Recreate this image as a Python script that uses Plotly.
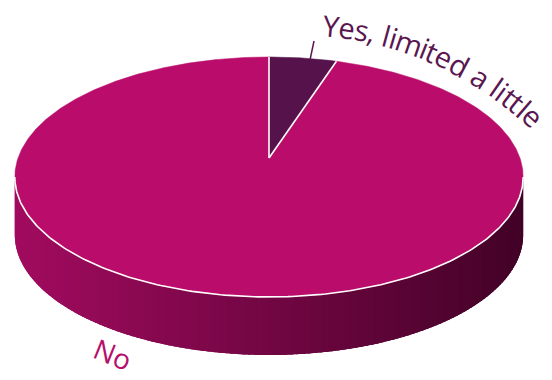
import numpy as np
import plotly.graph_objects as go

# Survey answers shown as a tilted 3D pie
labels = ["Yes, limited a little", "No"]
values = [5, 95]
top_colors = ["#56134B", "#BA0D6B"]

# Side wall shading (left -> right)
side_left = (0xA2, 0x0B, 0x5F)
side_right = (0x42, 0x02, 0x27)

W, H = 552, 380
CX, CY = 269, 158      # projected pie centre
A, B = 251, 117        # horizontal / vertical radii
K = 0.158              # perspective strength
DEPTH = 58             # thickness of the disc


def project(theta_deg, drop=0.0):
    """Angle measured clockwise from 12 o'clock -> screen point on the rim."""
    t = np.radians(theta_deg)
    X, Y = np.sin(t), np.cos(t)
    w = 1 + K * Y
    return CX + A * X / w, CY - B * Y / w + drop


fig = go.Figure()

# ---- side wall: shaded strips along the visible front rim (each overlaps the next)
t_left = 360 - np.degrees(np.arccos(-K))
t_right = np.degrees(np.arccos(-K))
n_strips = 140
edges = np.linspace(t_right, t_left, n_strips + 1)
step = edges[1] - edges[0]
x_min, x_max = CX - A / np.sqrt(1 - K * K), CX + A / np.sqrt(1 - K * K)
for i in range(n_strips):
    t_end = edges[i + 1] + (step * 1.5 if i < n_strips - 1 else 0)
    ts = np.linspace(edges[i], t_end, 5)
    xs, ys = project(ts)
    xb, yb = project(ts[::-1], DEPTH)
    xm = float(np.mean(project(np.array([edges[i], edges[i + 1]]))[0]))
    f = min(max((xm - x_min) / (x_max - x_min), 0), 1)
    r, g, b = [int(round(l + (rr - l) * f)) for l, rr in zip(side_left, side_right)]
    col = f"rgb({r},{g},{b})"
    fig.add_trace(go.Scatter(
        x=np.concatenate([xs, xb, xs[:1]]), y=np.concatenate([ys, yb, ys[:1]]),
        mode="lines", fill="toself", fillcolor=col,
        line=dict(width=0), hoverinfo="skip", showlegend=False))

# ---- top face: one sector per answer
total = sum(values)
start = 0.0
bounds = []
for lab, val, col in zip(labels, values, top_colors):
    span = 360.0 * val / total
    ts = np.linspace(start, start + span, max(int(span * 2), 4))
    xs, ys = project(ts)
    fig.add_trace(go.Scatter(
        x=np.concatenate([[CX], xs, [CX]]), y=np.concatenate([[CY], ys, [CY]]),
        mode="lines", fill="toself", fillcolor=col, line=dict(color=col, width=0.5),
        name=lab, hoverinfo="name", showlegend=False))
    bounds.append(start)
    start += span

# white slice dividers
for th in bounds:
    x1, y1 = project(th)
    fig.add_trace(go.Scatter(x=[CX, x1], y=[CY, y1], mode="lines",
                             line=dict(color="white", width=1.6),
                             hoverinfo="skip", showlegend=False))

# white highlight along the front edge of the top face
ts = np.linspace(t_right, t_left, 200)
xs, ys = project(ts)
fig.add_trace(go.Scatter(x=xs, y=ys, mode="lines",
                         line=dict(color="white", width=1.6),
                         hoverinfo="skip", showlegend=False))

# ---- labels
yes_col = "#5A1650"
no_col = "#B5106C"
font = "Open Sans"
annotations = []

# "Yes, limited a little" set letter by letter along a circular baseline
arc_cx, arc_cy, arc_r = 294, 377, 347
arc_start_deg, arc_len = 4.8, 236
size = 29
adv = {"Y": .555, "e": .561, "s": .479, ",": .258, " ": .26, "l": .258, "i": .258,
       "m": .866, "t": .352, "d": .621, "a": .556}
label = labels[0]
total_em = sum(adv.get(c, .55) for c in label)
scale = arc_len / total_em
s = 0.0
for ch in label:
    w_ch = adv.get(ch, .55) * scale
    if ch != " ":
        phi = np.radians(arc_start_deg) + (s + w_ch / 2) / arc_r
        rr = arc_r + 0.24 * size
        annotations.append(dict(
            x=arc_cx + rr * np.sin(phi), y=arc_cy - rr * np.cos(phi),
            xref="x", yref="y", text=ch, showarrow=False,
            textangle=float(np.degrees(phi)), xanchor="center", yanchor="middle",
            font=dict(family=font, size=size, color=yes_col)))
    s += w_ch

annotations.append(dict(x=113, y=354, xref="x", yref="y", text=labels[1], showarrow=False,
                        textangle=22, font=dict(family=font, size=28, color=no_col)))

fig.add_shape(type="line", x0=310, y0=60, x1=314, y1=41, xref="x", yref="y",
              line=dict(color=yes_col, width=1.5))

fig.update_layout(
    width=W, height=H, margin=dict(l=0, r=0, t=0, b=0),
    paper_bgcolor="white", plot_bgcolor="white",
    xaxis=dict(range=[0, W], visible=False, fixedrange=True),
    yaxis=dict(range=[H, 0], visible=False, fixedrange=True),
    annotations=annotations, showlegend=False,
)

fig.write_html("out.html")
